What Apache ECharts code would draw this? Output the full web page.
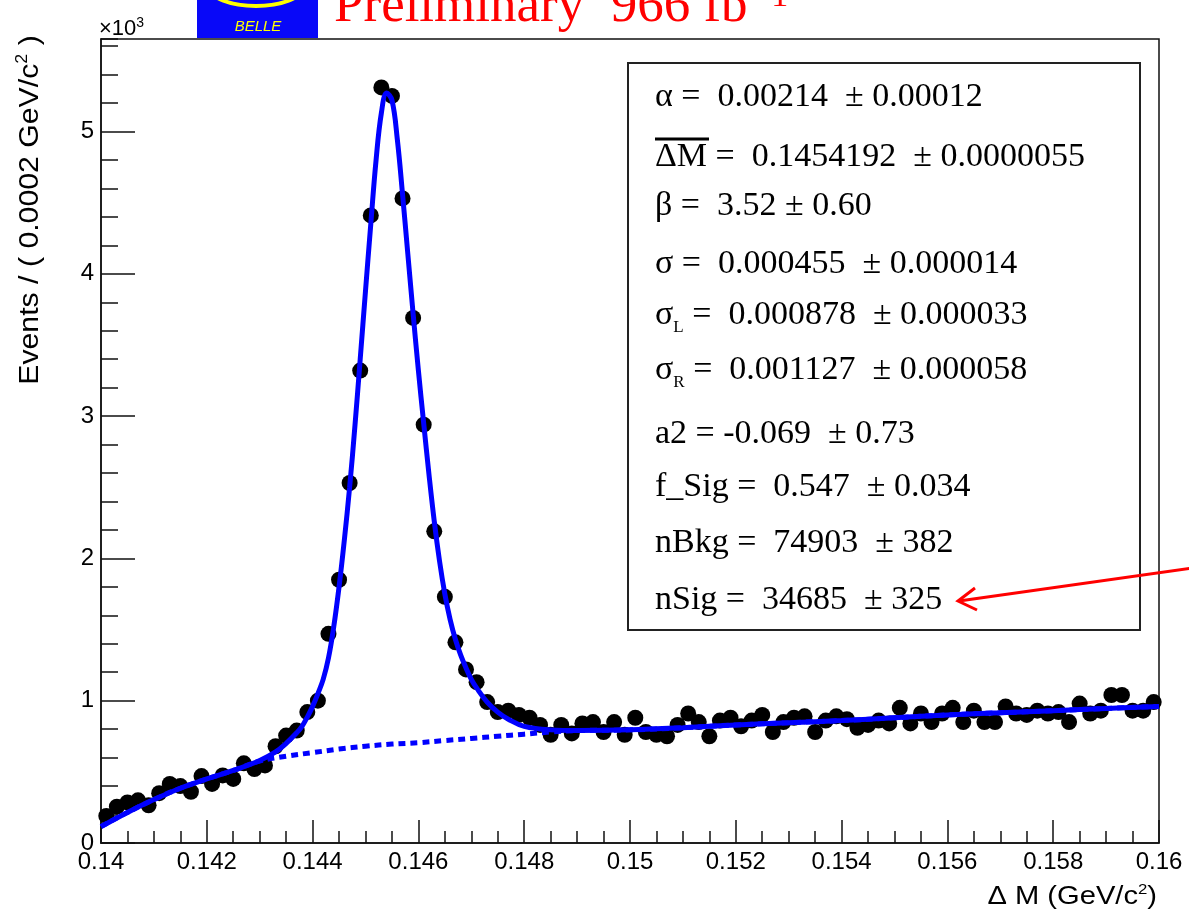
<!DOCTYPE html>
<html>
<head>
<meta charset="utf-8">
<script src="https://cdn.jsdelivr.net/npm/echarts@6.0.0/dist/echarts.min.js"></script>
<style>
  html, body { margin: 0; padding: 0; background: #fff; }
  #chart { width: 1189px; height: 914px; }
</style>
</head>
<body>
<div id="chart"></div>
<script>
  // bin centres, Delta M in GeV/c^2 (bins of 0.0002)
  var binCenters = [
    0.1401, 0.1403, 0.1405, 0.1407, 0.1409, 0.1411, 0.1413, 0.1415, 0.1417, 0.1419,
    0.1421, 0.1423, 0.1425, 0.1427, 0.1429, 0.1431, 0.1433, 0.1435, 0.1437, 0.1439,
    0.1441, 0.1443, 0.1445, 0.1447, 0.1449, 0.1451, 0.1453, 0.1455, 0.1457, 0.1459,
    0.1461, 0.1463, 0.1465, 0.1467, 0.1469, 0.1471, 0.1473, 0.1475, 0.1477, 0.1479,
    0.1481, 0.1483, 0.1485, 0.1487, 0.1489, 0.1491, 0.1493, 0.1495, 0.1497, 0.1499,
    0.1501, 0.1503, 0.1505, 0.1507, 0.1509, 0.1511, 0.1513, 0.1515, 0.1517, 0.1519,
    0.1521, 0.1523, 0.1525, 0.1527, 0.1529, 0.1531, 0.1533, 0.1535, 0.1537, 0.1539,
    0.1541, 0.1543, 0.1545, 0.1547, 0.1549, 0.1551, 0.1553, 0.1555, 0.1557, 0.1559,
    0.1561, 0.1563, 0.1565, 0.1567, 0.1569, 0.1571, 0.1573, 0.1575, 0.1577, 0.1579,
    0.1581, 0.1583, 0.1585, 0.1587, 0.1589, 0.1591, 0.1593, 0.1595, 0.1597, 0.1599
  ];
  // events per bin
  var events = [
    190, 255, 285, 300, 265, 350, 415, 400, 360, 470,
    415, 475, 450, 560, 520, 545, 680, 755, 790, 920,
    1000, 1470, 1850, 2530, 3320, 4410, 5310, 5250, 4530, 3690,
    2940, 2190, 1730, 1410, 1220, 1130, 990, 920, 930, 900,
    880, 830, 760, 830, 770, 840, 850, 780, 850, 760,
    880, 780, 760, 750, 830, 910, 850, 750, 860, 880,
    820, 860, 900, 780, 850, 880, 890, 780, 860, 890,
    870, 810, 830, 860, 840, 950, 840, 910, 850, 910,
    950, 850, 930, 850, 850, 960, 910, 900, 930, 910,
    920, 850, 980, 910, 930, 1040, 1040, 930, 930, 990
  ];

  // total fit curve
  var fitX = [0.1400, 0.1405, 0.1410, 0.1415, 0.1420, 0.1425, 0.1430, 0.1433, 0.1435, 0.1437,
    0.1438, 0.1439, 0.1440, 0.1441, 0.1442, 0.1443, 0.1444, 0.1445, 0.1446, 0.1447,
    0.1448, 0.1449, 0.1450, 0.1451, 0.1452, 0.1453, 0.1454, 0.1455, 0.1456, 0.1457,
    0.1458, 0.1459, 0.1460, 0.1461, 0.1462, 0.1463, 0.1464, 0.1465, 0.1466, 0.1467,
    0.1468, 0.1469, 0.1470, 0.1471, 0.1473, 0.1475, 0.1477, 0.1480, 0.1485, 0.1490,
    0.1500, 0.1510, 0.1520, 0.1530, 0.1540, 0.1550, 0.1560, 0.1570, 0.1580, 0.1590,
    0.1600];
  var fitY = [115, 215, 305, 385, 450, 510, 580, 640, 700, 775,
    820, 885, 960, 1050, 1150, 1300, 1520, 1800, 2130, 2500,
    2930, 3400, 3880, 4350, 4800, 5130, 5270, 5220, 4950, 4560,
    4140, 3720, 3320, 2950, 2590, 2260, 1980, 1750, 1570, 1430,
    1320, 1230, 1150, 1090, 990, 920, 870, 820, 795, 790,
    795, 810, 830, 845, 860, 880, 900, 915, 930, 945,
    960];

  // background component (dotted)
  var bkgX = [0.1400, 0.1405, 0.1410, 0.1415, 0.1420, 0.1425, 0.1430, 0.1435, 0.1440, 0.1445,
    0.1450, 0.1455, 0.1460, 0.1465, 0.1470, 0.1475, 0.1480, 0.1485, 0.1490, 0.1500,
    0.1510, 0.1520, 0.1530, 0.1540, 0.1550, 0.1560, 0.1570, 0.1580, 0.1590, 0.1600];
  var bkgY = [115, 215, 305, 385, 450, 510, 575, 610, 635, 660,
    680, 695, 705, 720, 735, 750, 765, 780, 790, 795,
    810, 830, 845, 860, 880, 900, 915, 930, 945, 960];

  // fit results shown in the box
  var paramSymbols = ['α', 'ΔM', 'β', 'σ', 'σ', 'σ', 'a2', 'f_Sig', 'nBkg', 'nSig'];
  var paramSubs = ['', '', '', '', 'L', 'R', '', '', '', ''];
  var paramValues = [' 0.00214', ' 0.1454192', ' 3.52', ' 0.000455', ' 0.000878', ' 0.001127', '-0.069', ' 0.547', ' 74903', ' 34685'];
  var paramErrors = ['0.00012', '0.0000055', '0.60', '0.000014', '0.000033', '0.000058', '0.73', '0.034', '382', '325'];

  var lineY = [97, 157, 206, 264, 315, 370, 434, 487, 543, 600];

  var serif = '"Liberation Serif", "Times New Roman", serif';
  var sans = '"Liberation Sans", Arial, Helvetica, sans-serif';

  var pts = binCenters.map(function (x, i) { return [x, events[i]]; });
  var fitPts = fitX.map(function (x, i) { return [x, fitY[i]]; });
  var bkgPts = bkgX.map(function (x, i) { return [x, bkgY[i]]; });

  var graphics = [];
  // stat box
  graphics.push({
    type: 'rect', z: 100,
    shape: { x: 628, y: 63, width: 512, height: 567 },
    style: { fill: '#fff', stroke: '#222', lineWidth: 2 }
  });
  paramSymbols.forEach(function (s, i) {
    var gap = (i === 2) ? ' ' : '  ';
    var txt = '{m|' + s + '}' + (paramSubs[i] ? '{s|' + paramSubs[i] + '}' : '') +
      '{m| = ' + paramValues[i] + gap + '± ' + paramErrors[i] + '}';
    graphics.push({
      type: 'text', z: 101, x: 655, y: lineY[i],
      style: {
        text: txt, fill: '#000', verticalAlign: 'middle', align: 'left',
        rich: {
          m: { fontFamily: serif, fontSize: 34, lineHeight: 42, verticalAlign: 'middle', fill: '#000' },
          s: { fontFamily: serif, fontSize: 17, lineHeight: 42, verticalAlign: 'bottom', fill: '#000' }
        }
      }
    });
  });
  // bar over Delta M
  graphics.push({
    type: 'line', z: 101,
    shape: { x1: 655, y1: 139, x2: 709, y2: 139 },
    style: { stroke: '#000', lineWidth: 3 }
  });
  // red arrow pointing at nSig
  graphics.push({
    type: 'line', z: 102,
    shape: { x1: 1192, y1: 568, x2: 959, y2: 601 },
    style: { stroke: '#ff0000', lineWidth: 3 }
  });
  graphics.push({
    type: 'polyline', z: 102,
    shape: { points: [[975, 588], [958, 601], [977, 610]] },
    style: { stroke: '#ff0000', lineWidth: 3, fill: null }
  });

  // Belle logo
  graphics.push({
    type: 'rect', z: 100,
    shape: { x: 197, y: 0, width: 121, height: 38 },
    style: { fill: '#0808f8' }
  });
  graphics.push({
    type: 'ellipse', z: 101,
    shape: { cx: 256, cy: -12, rx: 46, ry: 18 },
    style: { stroke: '#ffff00', lineWidth: 4, fill: null }
  });
  graphics.push({
    type: 'text', z: 101, x: 258, y: 27,
    style: {
      text: 'BELLE', fill: '#ffff00', fontFamily: sans, fontSize: 15,
      fontStyle: 'italic', align: 'center', verticalAlign: 'middle'
    }
  });
  // red title
  graphics.push({
    type: 'text', z: 100, x: 334, y: 7,
    style: {
      text: 'Preliminary  966 fb', align: 'left', verticalAlign: 'middle',
      fontFamily: serif, fontSize: 53, fill: '#ff0000'
    }
  });
  graphics.push({
    type: 'text', z: 100, x: 760, y: -3,
    style: {
      text: '-1', align: 'left', verticalAlign: 'middle',
      fontFamily: serif, fontSize: 34, fill: '#ff0000'
    }
  });
  // x10^3
  graphics.push({
    type: 'text', z: 100, x: 99, y: 29,
    style: {
      text: '{a|×10}{b|3}', align: 'left', verticalAlign: 'middle',
      rich: {
        a: { fontFamily: sans, fontSize: 22, lineHeight: 26, fill: '#000', verticalAlign: 'middle' },
        b: { fontFamily: sans, fontSize: 14, lineHeight: 26, fill: '#000', verticalAlign: 'top' }
      }
    }
  });
  // y axis title
  graphics.push({
    type: 'text', z: 100, x: 31, y: 210, rotation: Math.PI / 2, scaleX: 1.12,
    style: {
      text: '{a|Events / ( 0.0002 GeV/c}{b|2}{a| )}', align: 'center', verticalAlign: 'middle',
      rich: {
        a: { fontFamily: sans, fontSize: 27, lineHeight: 32, fill: '#000', verticalAlign: 'middle' },
        b: { fontFamily: sans, fontSize: 16, lineHeight: 32, fill: '#000', verticalAlign: 'top' }
      }
    }
  });
  // x axis title
  graphics.push({
    type: 'text', z: 100, x: 1157, y: 897, scaleX: 1.12,
    style: {
      text: '{a|Δ M (GeV/c}{b|2}{a|)}', align: 'right', verticalAlign: 'middle',
      rich: {
        a: { fontFamily: sans, fontSize: 26, lineHeight: 30, fill: '#000', verticalAlign: 'middle' },
        b: { fontFamily: sans, fontSize: 15, lineHeight: 30, fill: '#000', verticalAlign: 'top' }
      }
    }
  });

  var chart = echarts.init(document.getElementById('chart'), null, { renderer: 'canvas' });
  chart.setOption({
    animation: false,
    backgroundColor: '#fff',
    grid: {
      left: 101, top: 39, right: 30, bottom: 71,
      show: true, borderColor: '#111', borderWidth: 1.5,
      containLabel: false, outerBoundsMode: 'none'
    },
    xAxis: [{
      type: 'value', min: 0.14, max: 0.16, interval: 0.002, position: 'bottom',
      axisLine: { show: true, lineStyle: { color: '#111', width: 1.5 } },
      axisTick: { show: true, inside: true, length: 23, lineStyle: { color: '#111', width: 1.5 } },
      minorTick: { show: true, splitNumber: 4, length: 12, lineStyle: { color: '#111', width: 1.5 } },
      splitLine: { show: false },
      minorSplitLine: { show: false },
      axisLabel: {
        color: '#000', fontFamily: sans, fontSize: 24, margin: 7,
        showMinLabel: true, showMaxLabel: true,
        formatter: function (v) { return String(parseFloat(v.toFixed(4))); }
      }
    }],
    yAxis: [{
      type: 'value', min: 0, max: 5650, interval: 1000, position: 'left',
      axisLine: { show: true, lineStyle: { color: '#111', width: 1.5 } },
      axisTick: { show: true, inside: true, length: 34, lineStyle: { color: '#111', width: 1.5 } },
      splitLine: { show: false },
      axisLabel: {
        color: '#000', fontFamily: sans, fontSize: 24, margin: 7,
        showMaxLabel: false,
        formatter: function (v) { return String(v / 1000); }
      }
    }, {
      // minor ticks every 200 events
      type: 'value', min: 0, max: 5650, interval: 200, position: 'left',
      axisLine: { show: false },
      axisTick: { show: true, inside: true, length: 17, lineStyle: { color: '#111', width: 1.5 } },
      splitLine: { show: false },
      axisLabel: { show: false }
    }],
    series: [{
      type: 'scatter', name: 'data', data: pts,
      symbol: 'circle', symbolSize: 16, z: 2,
      itemStyle: { color: '#000', opacity: 1 },
      emphasis: { disabled: true }
    }, {
      type: 'line', name: 'background', data: bkgPts, z: 3,
      showSymbol: false, smooth: 0.4,
      lineStyle: { color: '#0000ff', width: 5, type: [7, 5], cap: 'butt' }
    }, {
      type: 'line', name: 'fit', data: fitPts, z: 4,
      showSymbol: false, smooth: 0.4,
      lineStyle: { color: '#0000ff', width: 5 }
    }],
    graphic: { elements: graphics }
  });
  window.addEventListener('resize', chart.resize);
</script>
</body>
</html>
